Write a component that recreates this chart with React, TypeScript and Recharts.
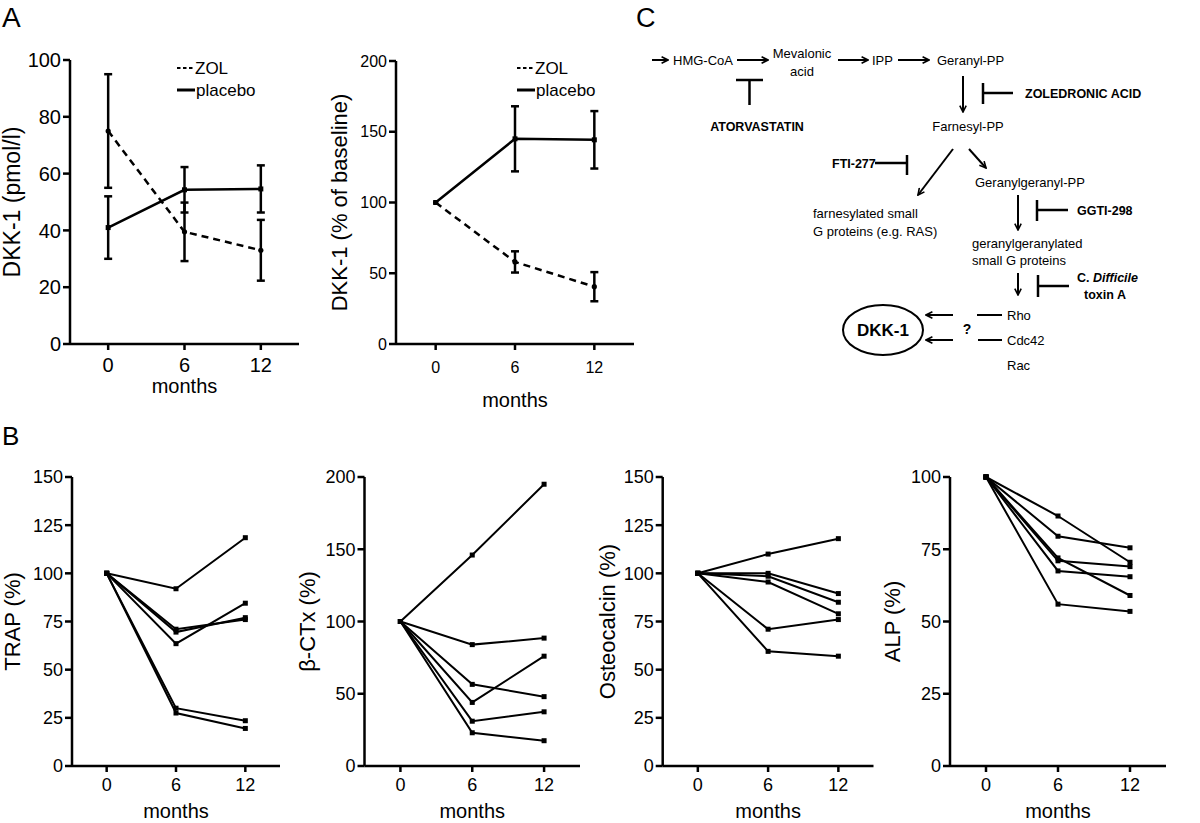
import React from 'react'
import { LineChart, Line, XAxis, YAxis, ErrorBar, Legend } from 'recharts'

const FONT = '"Liberation Sans", Arial, Helvetica, sans-serif'

const months = [0, 6, 12]
const monthTicks = [0, 6, 12]

// A: serum DKK-1 (pmol/l), mean with error
const dkkZol = [75, 39.5, 33]
const dkkZolErr = [20, 10.3, 10.7]
const dkkPlacebo = [41, 54.3, 54.6]
const dkkPlaceboErr = [11, 8, 8.3]

// A: DKK-1 as % of baseline
const pctZol = [100, 58, 40.5]
const pctZolErr = [0, 7.5, 10.3]
const pctPlacebo = [100, 145, 144.3]
const pctPlaceboErr = [0, 23, 20.3]

// B: individual patients, % of baseline
const trapSeries = [
  [100, 92, 118.5],
  [100, 63.5, 84.5],
  [100, 71, 76],
  [100, 69.5, 77],
  [100, 30, 23.5],
  [100, 27.5, 19.5],
]
const ctxSeries = [
  [100, 146, 195],
  [100, 84, 88.5],
  [100, 44, 76],
  [100, 56.5, 48],
  [100, 31, 37.5],
  [100, 23, 17.5],
]
const osteoSeries = [
  [100, 110, 118],
  [100, 100, 89.5],
  [100, 98.5, 85],
  [100, 95.5, 79],
  [100, 71, 76],
  [100, 59.5, 57],
]
const alpSeries = [
  [100, 86.5, 70.5],
  [100, 79.5, 75.5],
  [100, 72, 59],
  [100, 71, 69],
  [100, 67.5, 65.5],
  [100, 56, 53.5],
]

const groupRows = (zol: number[], zolErr: number[], pla: number[], plaErr: number[]) =>
  months.map((m, i) => ({ month: m, zol: zol[i], zolErr: zolErr[i], placebo: pla[i], placeboErr: plaErr[i] }))

const patientRows = (series: number[][]) =>
  months.map((m, i) => {
    const row: any = { month: m }
    series.forEach((s, k) => { row['p' + k] = s[i] })
    return row
  })

const SquareDot = (props: any) => {
  const { cx, cy, index } = props
  if (cx == null || cy == null) return <g key={index} />
  return <rect key={index} x={cx - 2.5} y={cy - 2.5} width={5} height={5} fill="#000" />
}

const RoundDot = (props: any) => {
  const { cx, cy, index } = props
  if (cx == null || cy == null) return <g key={index} />
  return <circle key={index} cx={cx} cy={cy} r={2.6} fill="#000" />
}

const GroupLegend = () => (
  <svg width={100} height={42} style={{ display: 'block' }}>
    <line x1={0} y1={10} x2={16} y2={10} stroke="#000" strokeWidth={1.8} strokeDasharray="3.5 2.5" />
    <text x={18} y={16} fontSize={17} fontFamily={FONT} fill="#000">ZOL</text>
    <line x1={0} y1={32} x2={18} y2={32} stroke="#000" strokeWidth={3} />
    <text x={19} y={38} fontSize={17} fontFamily={FONT} fill="#000">placebo</text>
  </svg>
)

interface Geo {
  left: number
  top: number
  width: number
  height: number
  axisX: number
  plotRight: number
  plotTop: number
  plotBottom: number
}

function frame(g: Geo) {
  return {
    yWidth: g.axisX - g.left,
    margin: { top: g.plotTop - g.top, right: g.width - (g.plotRight - g.left), bottom: 0, left: 0 },
    xHeight: g.top + g.height - g.plotBottom,
  }
}

const axisStroke = { stroke: '#000', strokeWidth: 2.5 }

function GroupPanel({ geo, rows, yMax, yTicks, label, labelSize, labelOffset, tickSize, tickGap, monthsOffset, legendLeft }: any) {
  const f = frame(geo)
  return (
    <div style={{ position: 'absolute', left: geo.left, top: geo.top }}>
      <LineChart width={geo.width} height={geo.height} data={rows} margin={f.margin}>
        <XAxis
          type="number"
          dataKey="month"
          domain={[-3, 15]}
          ticks={monthTicks}
          height={f.xHeight}
          tick={{ fill: '#000', fontSize: tickSize, fontFamily: FONT }}
          tickSize={6}
          tickMargin={tickGap}
          axisLine={axisStroke}
          tickLine={axisStroke}
          label={{ value: 'months', position: 'insideBottom', offset: monthsOffset, style: { fill: '#000', fontSize: 20, fontFamily: FONT } }}
        />
        <YAxis
          type="number"
          domain={[0, yMax]}
          ticks={yTicks}
          width={f.yWidth}
          tick={{ fill: '#000', fontSize: tickSize, fontFamily: FONT }}
          tickSize={7}
          tickMargin={2}
          axisLine={axisStroke}
          tickLine={axisStroke}
          label={{ value: label, angle: -90, position: 'insideLeft', offset: labelOffset, style: { textAnchor: 'middle', fill: '#000', fontSize: labelSize, fontFamily: FONT } }}
        />
        <Legend
          layout="vertical"
          align="center"
          verticalAlign="middle"
          content={<GroupLegend />}
          wrapperStyle={{ left: legendLeft, top: 58, width: 100, height: 42 }}
        />
        <Line dataKey="zol" stroke="#000" strokeWidth={2.5} strokeDasharray="7 5" dot={<RoundDot />} isAnimationActive={false}>
          <ErrorBar dataKey="zolErr" direction="y" width={4} stroke="#000" strokeWidth={2.5} isAnimationActive={false} />
        </Line>
        <Line dataKey="placebo" stroke="#000" strokeWidth={2.5} dot={<SquareDot />} isAnimationActive={false}>
          <ErrorBar dataKey="placeboErr" direction="y" width={4} stroke="#000" strokeWidth={2.5} isAnimationActive={false} />
        </Line>
      </LineChart>
    </div>
  )
}

function PatientPanel({ geo, series, yMax, yTicks, label, labelOffset }: any) {
  const f = frame(geo)
  const rows = patientRows(series)
  return (
    <div style={{ position: 'absolute', left: geo.left, top: geo.top }}>
      <LineChart width={geo.width} height={geo.height} data={rows} margin={f.margin}>
        <XAxis
          type="number"
          dataKey="month"
          domain={[-3, 15]}
          ticks={monthTicks}
          height={f.xHeight}
          tick={{ fill: '#000', fontSize: 18, fontFamily: FONT }}
          tickSize={6}
          tickMargin={6}
          axisLine={axisStroke}
          tickLine={axisStroke}
          label={{ value: 'months', position: 'insideBottom', offset: 5, style: { fill: '#000', fontSize: 20, fontFamily: FONT } }}
        />
        <YAxis
          type="number"
          domain={[0, yMax]}
          ticks={yTicks}
          width={f.yWidth}
          tick={{ fill: '#000', fontSize: 18, fontFamily: FONT }}
          tickSize={7}
          tickMargin={2}
          axisLine={axisStroke}
          tickLine={axisStroke}
          label={{ value: label, angle: -90, position: 'insideLeft', offset: labelOffset, style: { textAnchor: 'middle', fill: '#000', fontSize: 22, fontFamily: FONT } }}
        />
        {series.map((_: number[], k: number) => (
          <Line key={k} dataKey={'p' + k} stroke="#000" strokeWidth={2} dot={<SquareDot />} isAnimationActive={false} />
        ))}
      </LineChart>
    </div>
  )
}

const Arrow = ({ x1, y1, x2, y2 }: any) => (
  <line x1={x1} y1={y1} x2={x2} y2={y2} stroke="#000" strokeWidth={2} markerEnd="url(#arrowHead)" />
)

const Block = ({ x, y, x2, y1b, y2b }: any) => (
  <g stroke="#000" strokeWidth={2.5}>
    <line x1={x} y1={y} x2={x2} y2={y} />
    <line x1={x} y1={y1b} x2={x} y2={y2b} />
  </g>
)

function Pathway() {
  const t = { fontFamily: FONT, fontSize: 13, fill: '#000' }
  const b = { fontFamily: FONT, fontSize: 12.5, fill: '#000', fontWeight: 700 as const }
  return (
    <svg width={1200} height={823} style={{ position: 'absolute', left: 0, top: 0, pointerEvents: 'none' }}>
      <defs>
        <marker id="arrowHead" viewBox="0 0 10 10" refX="9" refY="5" markerWidth="4" markerHeight="4" orient="auto">
          <path d="M1,1 L9,5 L1,9" fill="none" stroke="#000" strokeWidth={2} />
        </marker>
      </defs>
      <text x={2} y={27} fontFamily={FONT} fontSize={28} fill="#000">A</text>
      <text x={2} y={445} fontFamily={FONT} fontSize={26} fill="#000">B</text>
      <text x={636} y={27} fontFamily={FONT} fontSize={27} fill="#000">C</text>

      <Arrow x1={652} y1={60} x2={668} y2={60} />
      <text x={673} y={65} {...t}>HMG-CoA</text>
      <Arrow x1={737} y1={60} x2={768} y2={60} />
      <text x={802} y={58} textAnchor="middle" {...t}>Mevalonic</text>
      <text x={802} y={76} textAnchor="middle" {...t}>acid</text>
      <Arrow x1={838} y1={60} x2={868} y2={60} />
      <text x={872} y={65} {...t}>IPP</text>
      <Arrow x1={898} y1={60} x2={929} y2={60} />
      <text x={937} y={65} {...t}>Geranyl-PP</text>

      <g stroke="#000" strokeWidth={2.5}>
        <line x1={736} y1={80} x2={763} y2={80} />
        <line x1={749.5} y1={80} x2={749.5} y2={105} />
      </g>
      <text x={757} y={131} textAnchor="middle" {...b}>ATORVASTATIN</text>

      <Arrow x1={963} y1={76} x2={963} y2={112} />
      <Block x={983} y={93} x2={1013} y1b={83} y2b={104} />
      <text x={1025} y={98} {...b}>ZOLEDRONIC ACID</text>
      <text x={968} y={131} textAnchor="middle" {...t}>Farnesyl-PP</text>

      <Arrow x1={953} y1={149} x2={918} y2={195} />
      <Arrow x1={969} y1={149} x2={986} y2={168} />
      <text x={832} y={168} {...b}>FTI-277</text>
      <g stroke="#000" strokeWidth={2.5}>
        <line x1={875} y1={163} x2={907} y2={163} />
        <line x1={907} y1={155} x2={907} y2={175} />
      </g>
      <text x={975} y={187} {...t}>Geranylgeranyl-PP</text>
      <text x={813} y={218} {...t}>farnesylated small</text>
      <text x={813} y={236} {...t}>G proteins (e.g. RAS)</text>

      <Arrow x1={1018} y1={195} x2={1018} y2={230} />
      <Block x={1037} y={210} x2={1068} y1b={200} y2b={221} />
      <text x={1077} y={215} {...b}>GGTI-298</text>
      <text x={972} y={248} {...t}>geranylgeranylated</text>
      <text x={972} y={265} {...t}>small G proteins</text>

      <Arrow x1={1018} y1={273} x2={1018} y2={295} />
      <Block x={1038} y={286} x2={1069} y1b={275} y2b={297} />
      <text x={1138} y={282} textAnchor="end" {...b}>C. <tspan fontStyle="italic">Difficile</tspan></text>
      <text x={1105} y={299} textAnchor="middle" {...b}>toxin A</text>

      <line x1={977} y1={315} x2={1002} y2={315} stroke="#000" strokeWidth={2} />
      <line x1={978} y1={340} x2={1002} y2={340} stroke="#000" strokeWidth={2} />
      <text x={1007} y={320} {...t}>Rho</text>
      <text x={1007} y={345} {...t}>Cdc42</text>
      <text x={1007} y={370} {...t}>Rac</text>
      <text x={967} y={334} textAnchor="middle" {...b} fontSize={14}>?</text>
      <Arrow x1={953} y1={315} x2={926} y2={315} />
      <Arrow x1={953} y1={340} x2={926} y2={340} />
      <ellipse cx={883} cy={330} rx={40} ry={25} fill="none" stroke="#000" strokeWidth={2} />
      <text x={883} y={336} textAnchor="middle" fontFamily={FONT} fontSize={17} fontWeight={700} fill="#000">DKK-1</text>
    </svg>
  )
}

const geoA1: Geo = { left: 0, top: 0, width: 310, height: 415, axisX: 70, plotRight: 299, plotTop: 60, plotBottom: 344 }
const geoA2: Geo = { left: 300, top: 0, width: 340, height: 415, axisX: 396, plotRight: 634, plotTop: 61, plotBottom: 344 }
const geoTrap: Geo = { left: 0, top: 420, width: 290, height: 403, axisX: 72, plotRight: 280, plotTop: 477, plotBottom: 766 }
const geoCtx: Geo = { left: 295, top: 420, width: 295, height: 403, axisX: 364.5, plotRight: 580, plotTop: 477, plotBottom: 766 }
const geoOsteo: Geo = { left: 590, top: 420, width: 295, height: 403, axisX: 662.7, plotRight: 873.5, plotTop: 477, plotBottom: 766 }
const geoAlp: Geo = { left: 880, top: 420, width: 300, height: 403, axisX: 950, plotRight: 1166, plotTop: 477, plotBottom: 766 }

export default function App() {
  return (
    <div style={{ position: 'absolute', left: 0, top: 0, width: 1200, height: 823, background: '#fff', fontFamily: FONT }}>
      <GroupPanel
        geo={geoA1}
        rows={groupRows(dkkZol, dkkZolErr, dkkPlacebo, dkkPlaceboErr)}
        yMax={100}
        yTicks={[0, 20, 40, 60, 80, 100]}
        label="DKK-1 (pmol/l)"
        labelSize={23}
        labelOffset={12}
        tickSize={20}
        tickGap={8}
        monthsOffset={22}
        legendLeft={177}
      />
      <GroupPanel
        geo={geoA2}
        rows={groupRows(pctZol, pctZolErr, pctPlacebo, pctPlaceboErr)}
        yMax={200}
        yTicks={[0, 50, 100, 150, 200]}
        label="DKK-1 (% of baseline)"
        labelSize={22}
        labelOffset={39}
        tickSize={16}
        tickGap={12}
        monthsOffset={8}
        legendLeft={217}
      />
      <PatientPanel geo={geoTrap} series={trapSeries} yMax={150} yTicks={[0, 25, 50, 75, 100, 125, 150]} label="TRAP (%)" labelOffset={12} />
      <PatientPanel geo={geoCtx} series={ctxSeries} yMax={200} yTicks={[0, 50, 100, 150, 200]} label="β-CTx (%)" labelOffset={12} />
      <PatientPanel geo={geoOsteo} series={osteoSeries} yMax={150} yTicks={[0, 25, 50, 75, 100, 125, 150]} label="Osteocalcin (%)" labelOffset={17} />
      <PatientPanel geo={geoAlp} series={alpSeries} yMax={100} yTicks={[0, 25, 50, 75, 100]} label="ALP (%)" labelOffset={12} />
      <Pathway />
    </div>
  )
}
